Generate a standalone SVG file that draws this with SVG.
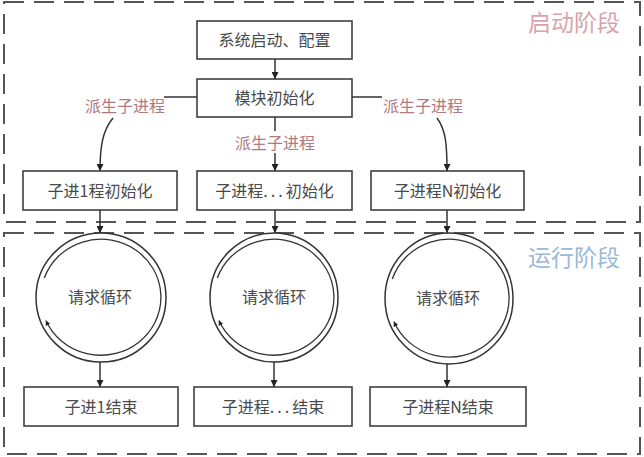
<svg xmlns="http://www.w3.org/2000/svg" width="644" height="457" viewBox="0 0 644 457">
<style>
.zone{fill:none;stroke:#555;stroke-width:2;stroke-dasharray:20 10}
.box{fill:#fff;stroke:#333;stroke-width:1.5}
.ring{fill:#fff;stroke:#333;stroke-width:1.5}
.loop{fill:none;stroke:#333;stroke-width:1.3}
.t{font-family:"Noto Sans CJK SC","Liberation Serif",serif;font-size:16px;fill:#4a4a4a;text-anchor:middle}
.lbl{font-family:"Noto Sans CJK SC","Liberation Serif",serif;font-size:16px;fill:#b07a80;text-anchor:middle}
.title{font-family:"Noto Sans CJK SC","Liberation Sans",sans-serif;font-size:23px;text-anchor:middle}
.c{fill:none;stroke:#333;stroke-width:1.5}
.dots{letter-spacing:3px}
</style>
<defs>
<marker id="arr" viewBox="0 0 10 10" refX="10" refY="5" markerWidth="7" markerHeight="7" markerUnits="userSpaceOnUse" orient="auto">
<path d="M0,0 L10,5 L0,10 z" fill="#222"/>
</marker>
<marker id="arrs" viewBox="0 0 10 10" refX="10" refY="5" markerWidth="5" markerHeight="5" markerUnits="userSpaceOnUse" orient="auto">
<path d="M0,0 L10,5 L0,10 z" fill="#222"/>
</marker>
</defs>
<rect width="644" height="457" fill="#fff"/>
<g id="zones">
<rect class="zone" x="4" y="2" width="636" height="220"/>
<rect class="zone" x="4" y="233" width="636" height="221"/>
<text class="title" x="574" y="31" fill="#d9a3ab">启动阶段</text>
<text class="title" x="574" y="266" fill="#9bb9d9">运行阶段</text>
</g>
<g id="connectors">
<path class="c" d="M275,59 V79" marker-end="url(#arr)"/>
<path class="c" d="M197,97 H164"/>
<path class="c" d="M352,97 H382"/>
<path class="c" d="M113,118 C103,130 100,145 100,171" marker-end="url(#arr)"/>
<path class="c" d="M437,118 C446,130 447,145 447,171" marker-end="url(#arr)"/>
<path class="c" d="M275,117 V131"/>
<path class="c" d="M275,153 V171" marker-end="url(#arr)"/>
<text class="lbl" x="125" y="112">派生子进程</text>
<text class="lbl" x="275" y="149">派生子进程</text>
<text class="lbl" x="423" y="112">派生子进程</text>
<path class="c" d="M100,210 V233" marker-end="url(#arr)"/>
<path class="c" d="M275,210 V233" marker-end="url(#arr)"/>
<path class="c" d="M447,210 V233" marker-end="url(#arr)"/>
<path class="c" d="M100,362 V387" marker-end="url(#arr)"/>
<path class="c" d="M274,362 V387" marker-end="url(#arr)"/>
<path class="c" d="M447,364 V387" marker-end="url(#arr)"/>
</g>
<g id="n-start"><rect class="box" x="197" y="21" width="155" height="38"/><text class="t" x="274.5" y="46">系统启动、配置</text></g>
<g id="n-module"><rect class="box" x="197" y="79" width="155" height="38"/><text class="t" x="274.5" y="104">模块初始化</text></g>
<g id="n-init1"><rect class="box" x="23" y="171" width="154" height="39"/><text class="t" x="100" y="196.5">子进1程初始化</text></g>
<g id="n-initm"><rect class="box" x="197" y="171" width="155" height="39"/><text class="t" x="274.5" y="196.5">子进程<tspan class="dots">...</tspan>初始化</text></g>
<g id="n-initn"><rect class="box" x="371" y="171" width="153" height="39"/><text class="t" x="447.5" y="196.5">子进程N初始化</text></g>
<g id="n-loop1">
<ellipse class="ring" cx="101" cy="297.5" rx="65" ry="64.5"/>
<path class="loop" d="M44.3,278 A60,58 0 1 1 45.9,320.4" marker-end="url(#arrs)"/>
<text class="t" x="100" y="303">请求循环</text>
</g>
<g id="n-loopm">
<ellipse class="ring" cx="274" cy="297.5" rx="64" ry="64.5"/>
<path class="loop" d="M217.3,278 A60,58 0 1 1 218.9,320.4" marker-end="url(#arrs)"/>
<text class="t" x="274" y="303">请求循环</text>
</g>
<g id="n-loopn">
<ellipse class="ring" cx="449" cy="298.5" rx="64" ry="65.5"/>
<path class="loop" d="M392.3,279 A60,59 0 1 1 393.9,321.4" marker-end="url(#arrs)"/>
<text class="t" x="448" y="304">请求循环</text>
</g>
<g id="n-end1"><rect class="box" x="24" y="387" width="154" height="39"/><text class="t" x="101" y="412.5">子进1结束</text></g>
<g id="n-endm"><rect class="box" x="194" y="387" width="158" height="39"/><text class="t" x="273" y="412.5">子进程<tspan class="dots">...</tspan>结束</text></g>
<g id="n-endn"><rect class="box" x="370" y="387" width="156" height="39"/><text class="t" x="448" y="412.5">子进程N结束</text></g>
</svg>
